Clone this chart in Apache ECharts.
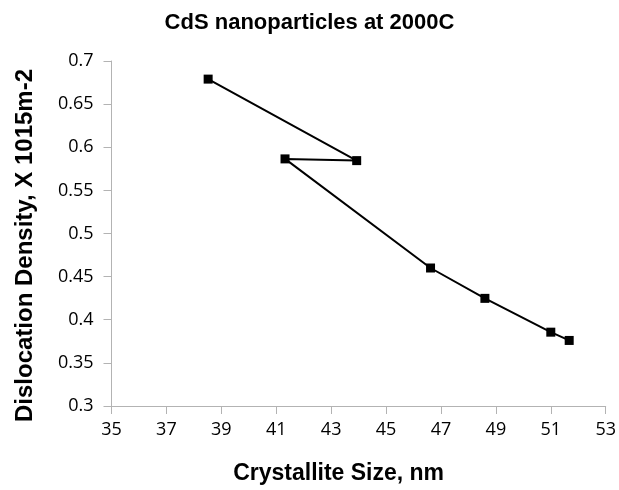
<!DOCTYPE html>
<html>
<head>
<meta charset="utf-8">
<script src="https://cdn.jsdelivr.net/npm/echarts@6/dist/echarts.min.js"></script>
<style>
    html, body { margin: 0; padding: 0; background: #fff; }
    #main { width: 619px; height: 490px; }
</style>
</head>
<body>
<div id="main"></div>
<script>
// crystallite size (nm) and dislocation density, in drawing order
var crystalliteSize = [38.52, 43.93, 41.32, 46.62, 48.6, 51.0, 51.67];
var dislocationDensity = [0.679, 0.5845, 0.5865, 0.46, 0.4248, 0.3856, 0.376];

var chartDom = document.getElementById('main');
var myChart = echarts.init(chartDom);

var points = crystalliteSize.map(function (x, i) {
    return [x, dislocationDensity[i]];
});

var boldFont = 'Liberation Sans';
var tickFont = 'Open Sans';

var option = {
    animation: false,
    title: {
        text: 'CdS nanoparticles at 2000C',
        left: 'center',
        top: 7,
        textStyle: {
            fontFamily: boldFont,
            fontWeight: 'bold',
            fontSize: 22,
            color: '#000'
        }
    },
    grid: {
        left: 111.5,
        right: 12,
        top: 61,
        bottom: 83
    },
    xAxis: {
        type: 'value',
        min: 35,
        max: 53,
        interval: 2,
        name: 'Crystallite Size, nm',
        nameLocation: 'middle',
        nameGap: 56,
        nameTextStyle: {
            fontFamily: boldFont,
            fontWeight: 'bold',
            fontSize: 23,
            color: '#000',
            padding: [0, 40, 0, 0]
        },
        axisLine: { lineStyle: { color: '#b3b3b3', width: 1 } },
        axisTick: { show: true, length: 8, lineStyle: { color: '#b3b3b3' } },
        axisLabel: {
            fontFamily: tickFont,
            fontSize: 18,
            color: '#000',
            margin: 15
        },
        splitLine: { show: false }
    },
    yAxis: {
        type: 'value',
        min: 0.3,
        max: 0.7,
        interval: 0.05,
        name: 'Dislocation Density, X 1015m-2',
        nameLocation: 'middle',
        nameGap: 74,
        nameTextStyle: {
            fontFamily: boldFont,
            fontWeight: 'bold',
            fontSize: 24,
            color: '#000',
            padding: [0, 24, 0, 0]
        },
        axisLine: { show: true, lineStyle: { color: '#b3b3b3', width: 1 } },
        axisTick: { show: true, length: 8, lineStyle: { color: '#b3b3b3' } },
        axisLabel: {
            fontFamily: tickFont,
            fontSize: 18,
            color: '#000',
            margin: 18,
            formatter: function (v) {
                return String(Math.round(v * 100) / 100);
            }
        },
        splitLine: { show: false }
    },
    series: [
        {
            type: 'line',
            data: points,
            symbol: 'rect',
            symbolSize: 9,
            itemStyle: { color: '#000' },
            lineStyle: { color: '#000', width: 2 }
        }
    ]
};

myChart.setOption(option);
</script>
</body>
</html>
